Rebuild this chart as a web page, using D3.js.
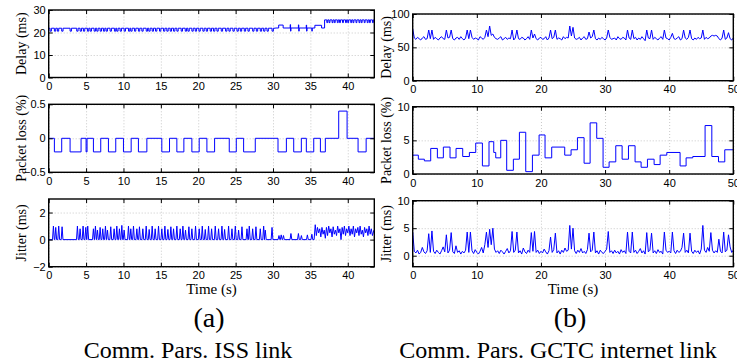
<!DOCTYPE html>
<html>
<head>
<meta charset="utf-8">
<script src="https://cdn.jsdelivr.net/npm/d3@7"></script>
<style>
  body { margin: 0; background: #fff; }
  svg { display: block; font-family: "Liberation Serif", "Times New Roman", serif; }
  .tick text { font-size: 11px; fill: #000; }
  .grid line { stroke: #c8c8c8; stroke-dasharray: 1,2; }
</style>
</head>
<body>
<svg id="chart" width="737" height="362"></svg>
<script>
// ---- data: ISS link (a) ----
const issTimeMax = 43.55
const issTimeTicks = [0, 5, 10, 15, 20, 25, 30, 35, 40]

// delay: base level per segment [start time, ms]
const issDelayLevels = [[0, 21.9], [30.3, 22.0], [36.9, 25.6]]
// short excursions from the base level [time, ms, duration]
const issDelayDips = [
  [0.18, 20.6, 0.18], [0.76, 20.6, 0.18], [1.16, 20.6, 0.18], [1.74, 20.6, 0.18],
  [2.86, 20.6, 0.18], [3.75, 20.6, 0.18], [4.2, 20.6, 0.18], [4.64, 20.6, 0.18],
  [5.18, 20.6, 0.18], [5.54, 20.6, 0.18], [6.07, 20.6, 0.18], [6.43, 20.6, 0.18],
  [6.88, 20.6, 0.18], [7.32, 20.6, 0.18], [7.68, 20.6, 0.18], [8.21, 20.6, 0.18],
  [8.79, 20.6, 0.18], [9.1, 20.6, 0.18], [9.55, 20.6, 0.18], [10.09, 20.6, 0.18],
  [10.67, 20.6, 0.18], [10.98, 20.6, 0.18], [11.47, 20.6, 0.18], [12.0, 20.6, 0.18],
  [12.46, 20.6, 0.18], [13.04, 20.6, 0.18], [13.39, 20.6, 0.18], [13.84, 20.6, 0.18],
  [14.29, 20.6, 0.18], [14.82, 20.6, 0.18], [15.36, 20.6, 0.18], [15.8, 20.6, 0.18],
  [16.25, 20.6, 0.18], [16.7, 20.6, 0.18], [17.14, 20.6, 0.18], [17.72, 20.6, 0.18],
  [18.26, 20.6, 0.18], [18.62, 20.6, 0.18], [19.15, 20.6, 0.18], [19.6, 20.6, 0.18],
  [20.09, 20.6, 0.18], [20.62, 20.6, 0.18], [21.07, 20.6, 0.18], [21.6, 20.6, 0.18],
  [22.05, 20.6, 0.18], [22.5, 20.6, 0.18], [23.08, 20.6, 0.18], [23.66, 20.6, 0.18],
  [24.1, 20.6, 0.18], [24.64, 20.6, 0.18], [25.18, 20.6, 0.18], [25.63, 20.6, 0.18],
  [26.16, 20.6, 0.18], [26.65, 20.6, 0.18], [27.28, 20.6, 0.18], [27.77, 20.6, 0.18],
  [28.3, 20.6, 0.18], [28.75, 20.6, 0.18], [29.2, 20.6, 0.18], [29.87, 20.6, 0.18],
  [30.76, 23.3, 0.6], [32.3, 23.5, 0.05], [32.35, 20.6, 0.05], [33.4, 23.4, 0.05],
  [33.45, 20.6, 0.05], [34.45, 23.3, 0.05], [34.5, 20.6, 0.05], [35.2, 20.6, 0.05],
  [35.6, 23.2, 0.9],
  [37.2, 24.4, 0.12], [37.5, 24.4, 0.12], [37.9, 24.4, 0.12], [38.2, 24.4, 0.12],
  [38.6, 24.4, 0.12], [38.9, 24.4, 0.12], [39.3, 24.4, 0.12], [39.7, 24.4, 0.12],
  [40.0, 24.4, 0.12], [40.4, 24.4, 0.12], [40.7, 24.4, 0.12], [41.1, 24.4, 0.12],
  [41.5, 24.4, 0.12], [41.8, 24.4, 0.12], [42.2, 24.4, 0.12], [42.6, 24.4, 0.12],
  [42.9, 24.4, 0.12], [43.3, 24.4, 0.12]
]

// packet loss steps [time, %]
const issLoss = [
  [0, 0], [0.76, -0.2], [1.74, 0], [2.86, -0.2], [4.33, 0], [5.0, -0.2], [5.13, 0],
  [5.98, -0.2], [6.96, 0], [7.99, -0.2], [8.97, 0], [10.0, -0.2], [11.03, 0],
  [12.0, -0.2], [13.13, 0], [15.13, -0.2], [16.16, 0], [17.14, -0.2], [18.08, 0],
  [19.15, -0.2], [20.13, 0], [21.16, -0.2], [22.19, 0], [24.15, -0.2], [25.09, 0],
  [26.07, -0.2], [27.63, 0], [30.67, -0.2], [31.79, 0], [32.77, -0.2], [33.79, 0],
  [34.46, -0.2], [35.45, 0], [36.34, -0.2], [37.0, 0], [38.79, 0.4], [39.91, 0],
  [41.38, -0.2], [42.46, 0], [43.55, 0]
]

// jitter peaks on a zero baseline [time, ms]
const issJitterPeaks = [
  [0.63, 1.0], [0.94, 0.9], [1.34, 1.0], [1.79, 0.95], [3.84, 1.0], [4.2, 0.8],
  [4.6, 1.0], [4.96, 0.9], [5.22, 1.0], [5.98, 0.8], [6.25, 1.0], [6.52, 0.7],
  [6.88, 0.9], [7.23, 0.8], [7.59, 1.0], [7.86, 0.7], [8.3, 0.95], [8.75, 0.8],
  [9.11, 1.0], [9.46, 0.8], [9.78, 1.05], [10.09, 0.7], [10.67, 1.0], [10.98, 0.8],
  [11.34, 1.0], [11.79, 0.8], [12.14, 0.95], [12.59, 0.8], [13.04, 1.0], [13.44, 0.75],
  [13.84, 1.0], [14.24, 0.8], [14.69, 1.0], [15.13, 0.8], [15.54, 1.0], [15.94, 0.75],
  [16.34, 0.95], [16.7, 0.8], [17.14, 1.0], [17.59, 0.8], [17.95, 1.0], [18.3, 0.7],
  [18.75, 0.95], [19.15, 0.8], [19.64, 1.0], [20.13, 0.8], [20.54, 1.0], [20.94, 0.75],
  [21.38, 1.0], [21.79, 0.8], [22.28, 1.0], [22.72, 0.8], [23.17, 1.0], [23.53, 0.75],
  [24.06, 1.0], [24.51, 0.8], [24.96, 1.0], [25.4, 0.7], [25.85, 0.95], [26.52, 0.8],
  [26.83, 1.0], [27.28, 0.8], [27.72, 0.95], [28.3, 0.8], [28.75, 1.0], [28.97, 0.7],
  [29.87, 0.9], [30.8, 0.3], [31.1, 0.35], [31.4, 0.3], [32.4, 0.45], [33.4, 0.45],
  [33.8, 0.3], [34.6, 0.35], [35.2, 0.4]
]
// jitter after 35.5 s, continuous [time, ms]
const issJitterTail = [
  [35.5, 0], [35.65, 1.1], [35.8, 0.3], [35.95, 0.9], [36.1, 0.5], [36.25, 0.8],
  [36.4, 0.2], [36.55, 0.9], [36.7, 0.4], [36.85, 0.7], [37.0, 0.1], [37.15, 0.9],
  [37.3, 0.3], [37.45, 1.0], [37.6, 0.5], [37.75, 0.8], [37.9, 0.2], [38.05, 0.95],
  [38.2, 0.4], [38.35, 0.7], [38.5, 0.3], [38.65, 1.0], [38.8, 0.5], [38.95, 0.8],
  [39.1, 0.0], [39.25, 0.9], [39.4, 0.4], [39.55, 1.0], [39.7, 0.3], [39.85, 0.8],
  [40.0, 0.5], [40.15, 1.0], [40.3, 0.3], [40.45, 0.8], [40.6, 0.4], [40.75, 1.0],
  [40.9, 0.2], [41.05, 0.8], [41.2, 0.5], [41.35, 0.9], [41.5, 0.3], [41.65, 1.0],
  [41.8, 0.4], [41.95, 0.7], [42.1, 0.2], [42.25, 0.9], [42.4, 0.5], [42.55, 0.8],
  [42.7, 0.3], [42.85, 1.0], [43.0, 0.4], [43.15, 0.8], [43.3, 0.3], [43.5, 0.7]
]

// ---- data: GCTC internet link (b) ----
const gctcTimeMax = 50
const gctcTimeTicks = [0, 10, 20, 30, 40, 50]
const gctcSampleStep = 0.25 // s between samples

const gctcDelay = [
  78, 64, 62, 65, 63, 61, 64, 66, 62, 63,
  76, 63, 76, 62, 65, 63, 61, 64, 66, 63,
  62, 76, 64, 65, 76, 63, 61, 64, 65, 62,
  66, 63, 61, 64, 76, 63, 76, 65, 62, 64,
  63, 61, 66, 64, 62, 65, 76, 66, 82, 68,
  70, 65, 63, 62, 64, 66, 61, 63, 65, 62,
  64, 63, 76, 61, 64, 76, 63, 62, 65, 64,
  61, 63, 66, 62, 76, 64, 70, 63, 61, 64,
  65, 62, 63, 66, 61, 64, 76, 63, 65, 76,
  62, 64, 63, 61, 66, 63, 65, 64, 82, 67,
  80, 64, 62, 63, 65, 61, 64, 66, 62, 63,
  73, 64, 66, 76, 63, 61, 64, 62, 65, 63,
  61, 64, 76, 65, 62, 63, 64, 61, 66, 63,
  62, 65, 64, 61, 76, 64, 62, 76, 63, 65,
  61, 64, 62, 66, 63, 60, 76, 64, 63, 76,
  62, 65, 63, 61, 64, 66, 62, 76, 64, 63,
  61, 65, 71, 63, 62, 64, 66, 61, 63, 76,
  64, 62, 65, 76, 63, 61, 64, 62, 65, 63,
  64, 76, 62, 65, 63, 64, 67, 68, 67, 68,
  67, 63, 61, 64, 76, 62, 64, 72, 63, 61,
  64
]

const gctcLoss = [
  [0, 2.8], [0.88, 2.2], [1.82, 1.95], [2.81, 3.8], [3.85, 2.4], [4.78, 4.0],
  [5.82, 2.4], [6.76, 3.8], [7.8, 2.6], [8.84, 3.2], [9.83, 4.6], [10.87, 1.2],
  [11.9, 4.8], [12.64, 3.2], [12.95, 2.4], [13.73, 5.0], [14.66, 0.55], [15.7, 2.2],
  [16.64, 6.2], [17.63, 0.35], [18.67, 2.8], [19.71, 5.8], [20.64, 2.4], [21.68, 4.0],
  [23.71, 2.8], [24.7, 3.6], [25.69, 5.4], [26.73, 1.6], [27.67, 7.6], [28.7, 5.3],
  [29.69, 1.0], [30.63, 1.8], [31.67, 4.2], [32.66, 2.2], [33.65, 4.2], [34.68, 1.8],
  [35.62, 1.0], [36.61, 2.2], [37.65, 1.4], [38.59, 2.8], [39.63, 3.2], [41.7, 1.2],
  [42.64, 2.4], [43.68, 2.6], [45.6, 7.2], [46.65, 2.6], [47.69, 1.8], [48.67, 3.6],
  [50, 3.6]
]

const gctcJitter = [
  4.3, 0.8, 0.5, 1.0, 0.3, 0.6, 1.5, 0.7, 0.4, 0.9,
  4.0, 0.6, 4.5, 0.8, 0.4, 1.0, 0.6, 0.3, 0.9, 1.6,
  0.7, 3.8, 0.5, 1.0, 4.2, 0.7, 0.4, 1.8, 0.6, 0.9,
  0.3, 0.8, 0.5, 1.0, 4.3, 0.6, 4.3, 0.9, 0.4, 1.1,
  0.6, 0.3, 0.8, 1.5, 0.5, 2.0, 4.3, 1.5, 4.8, 2.0,
  5.0, 1.2, 0.6, 0.9, 0.4, 1.0, 0.7, 0.3, 0.8, 1.3,
  0.5, 0.9, 4.4, 0.6, 1.0, 4.3, 0.5, 0.9, 0.3, 1.4,
  0.7, 0.4, 1.0, 0.6, 4.2, 0.8, 4.4, 0.6, 1.0, 0.4,
  0.8, 0.5, 1.2, 0.7, 0.3, 0.9, 3.4, 0.6, 1.1, 4.1,
  0.5, 0.9, 0.3, 1.0, 0.6, 1.4, 0.8, 1.0, 5.5, 1.2,
  5.0, 0.9, 0.4, 1.0, 0.6, 1.3, 0.5, 0.8, 0.4, 1.1,
  4.1, 0.7, 1.0, 4.3, 0.5, 0.9, 0.3, 1.0, 0.6, 0.4,
  0.8, 1.2, 4.4, 0.6, 0.9, 0.4, 1.0, 0.5, 0.8, 0.3,
  1.1, 0.6, 0.9, 0.4, 4.3, 0.8, 0.5, 4.3, 0.6, 1.0,
  0.4, 0.8, 1.3, 0.5, 0.9, 0.3, 4.2, 0.7, 1.0, 4.1,
  0.5, 0.9, 0.4, 1.1, 0.6, 0.8, 0.3, 4.3, 1.0, 0.6,
  0.8, 0.5, 4.3, 0.9, 0.4, 1.0, 0.6, 0.8, 1.5, 4.1,
  0.6, 1.0, 0.5, 4.1, 0.8, 0.4, 1.0, 0.6, 0.9, 0.3,
  1.2, 5.5, 1.0, 0.6, 1.5, 0.8, 4.2, 1.0, 0.5, 0.9,
  0.6, 3.0, 0.8, 0.5, 4.3, 0.7, 1.0, 3.8, 1.6, 0.6,
  1.0
]

// ---- build point lists ----
function stepSeries(levels, events) {
  const levelAt = t => levels.filter(l => l[0] <= t).pop()[1]
  const pts = levels.map(l => [l[0], l[1]])
  events.forEach(e => {
    pts.push([e[0], e[1]])
    pts.push([e[0] + e[2], levelAt(e[0] + e[2])])
  })
  pts.sort((a, b) => a[0] - b[0])
  pts.push([issTimeMax, levelAt(issTimeMax)])
  return pts
}

function peakSeries(peaks, halfWidth) {
  const pts = [[0, 0]]
  peaks.forEach(p => {
    pts.push([p[0] - halfWidth, 0], [p[0], p[1]], [p[0] + halfWidth, 0])
  })
  return pts
}

const sampled = vals => vals.map((v, i) => [i * gctcSampleStep, v])

const issDelayPts = stepSeries(issDelayLevels, issDelayDips)
const issJitterPts = peakSeries(issJitterPeaks, 0.12).concat(issJitterTail)

// ---- drawing ----
const svg = d3.select('#chart')
let clipId = 0

function drawPanel(p) {
  const x = d3.scaleLinear().domain([0, p.xMax]).range([p.l, p.r])
  const y = d3.scaleLinear().domain(p.yDomain).range([p.b, p.t])
  const h = p.b - p.t, w = p.r - p.l
  const g = svg.append('g')

  g.append('g').attr('class', 'grid')
    .attr('transform', `translate(0,${p.b})`)
    .call(d3.axisBottom(x).tickValues(p.xTicks).tickSize(-h).tickFormat(''))
    .call(s => s.select('.domain').remove())
  g.append('g').attr('class', 'grid')
    .attr('transform', `translate(${p.l},0)`)
    .call(d3.axisLeft(y).tickValues(p.yTicks).tickSize(-w).tickFormat(''))
    .call(s => s.select('.domain').remove())

  const id = 'clip' + (clipId++)
  svg.append('clipPath').attr('id', id)
    .append('rect').attr('x', p.l).attr('y', p.t).attr('width', w).attr('height', h)

  const line = d3.line().x(d => x(d[0])).y(d => y(d[1])).curve(p.curve || d3.curveLinear)
  g.append('path')
    .datum(p.data)
    .attr('clip-path', `url(#${id})`)
    .attr('fill', 'none')
    .attr('stroke', '#0000ff')
    .attr('stroke-width', 1)
    .attr('d', line)

  const fmt = d3.format('~g')
  g.append('g').attr('transform', `translate(0,${p.b})`)
    .call(d3.axisBottom(x).tickValues(p.xTicks).tickSize(-4).tickPadding(5).tickFormat(fmt))
  g.append('g').attr('transform', `translate(0,${p.t})`)
    .call(d3.axisTop(x).tickValues(p.xTicks).tickSize(-4).tickFormat(''))
  g.append('g').attr('transform', `translate(${p.l},0)`)
    .call(d3.axisLeft(y).tickValues(p.yTicks).tickSize(-4).tickPadding(3).tickFormat(fmt))
  g.append('g').attr('transform', `translate(${p.r},0)`)
    .call(d3.axisRight(y).tickValues(p.yTicks).tickSize(-4).tickFormat(''))
  g.selectAll('.domain').remove()
  g.selectAll('.tick line').attr('stroke', '#000')

  g.append('rect')
    .attr('x', p.l).attr('y', p.t).attr('width', w).attr('height', h)
    .attr('fill', 'none').attr('stroke', '#000').attr('stroke-width', 1.4)

  g.append('text')
    .attr('transform', `translate(${p.labelX},${(p.t + p.b) / 2}) rotate(-90)`)
    .attr('text-anchor', 'middle')
    .attr('dy', '0.35em')
    .style('font-size', '14px')
    .text(p.yLabel)
}

const colA = { l: 48.7, r: 374.3, xMax: issTimeMax, xTicks: issTimeTicks, labelX: 21 }
const colB = { l: 412.7, r: 733.3, xMax: gctcTimeMax, xTicks: gctcTimeTicks, labelX: 386 }

const panels = [
  Object.assign({}, colA, { t: 10, b: 77.5, yDomain: [0, 30], yTicks: [0, 10, 20, 30],
    yLabel: 'Delay (ms)', data: issDelayPts, curve: d3.curveStepAfter }),
  Object.assign({}, colA, { t: 104.3, b: 172.3, yDomain: [-0.5, 0.5], yTicks: [-0.5, 0, 0.5],
    yLabel: 'Packet loss (%)', data: issLoss, curve: d3.curveStepAfter }),
  Object.assign({}, colA, { t: 199, b: 266.7, yDomain: [-2, 3], yTicks: [-2, 0, 2],
    yLabel: 'Jitter (ms)', data: issJitterPts }),
  Object.assign({}, colB, { t: 14, b: 80.7, yDomain: [0, 100], yTicks: [0, 50, 100],
    yLabel: 'Delay (ms)', data: sampled(gctcDelay) }),
  Object.assign({}, colB, { t: 106.7, b: 174, yDomain: [0, 10], yTicks: [0, 5, 10],
    yLabel: 'Packet loss (%)', data: gctcLoss, curve: d3.curveStepAfter }),
  Object.assign({}, colB, { t: 200.7, b: 266.7, yDomain: [-2, 10], yTicks: [0, 5, 10],
    yLabel: 'Jitter (ms)', data: sampled(gctcJitter) })
]
panels.forEach(drawPanel)

// axis titles and captions
const captions = [
  { x: (colA.l + colA.r) / 2, y: 293.5, size: 15, text: 'Time (s)' },
  { x: (colB.l + colB.r) / 2, y: 293.5, size: 15, text: 'Time (s)' },
  { x: 209, y: 327, size: 28, text: '(a)' },
  { x: 570, y: 327, size: 28, text: '(b)' },
  { x: 188, y: 358, size: 24, text: 'Comm. Pars. ISS link' },
  { x: 558, y: 358, size: 24, text: 'Comm. Pars. GCTC internet link' }
]
svg.selectAll('text.caption')
  .data(captions)
  .enter().append('text')
  .attr('class', 'caption')
  .attr('x', d => d.x)
  .attr('y', d => d.y)
  .attr('text-anchor', 'middle')
  .style('font-size', d => d.size + 'px')
  .text(d => d.text)
</script>
</body>
</html>
